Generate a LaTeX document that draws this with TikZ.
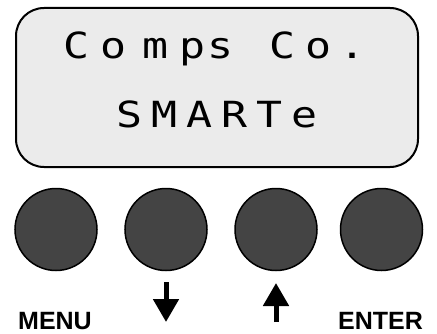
\documentclass[tikz,border=0pt]{standalone}
\usepackage{fontspec}
\usetikzlibrary{arrows.meta}
\newfontfamily\lcdfont{DejaVu Sans Mono}
\setsansfont{Liberation Sans}
\definecolor{lcdgray}{RGB}{235,235,235}
\definecolor{knobgray}{RGB}{68,68,68}
\tikzset{
  button/.style={circle,draw=black,line width=1.5pt,fill=knobgray,minimum size=82pt,inner sep=0pt},
  keylabel/.style={anchor=base,font=\sffamily\bfseries\fontsize{25}{25}\selectfont,inner sep=0pt},
  lcdchar/.style={anchor=base,inner sep=0pt,font=\lcdfont\fontsize{36}{36}\selectfont},
  keyarrow/.style={line width=5pt,-{Triangle[length=23pt,width=25pt]}}
}

\begin{document}
\begin{tikzpicture}[x=1pt,y=1pt]
  \useasboundingbox (0,0) rectangle (437,333);

  \draw[line width=2pt,fill=lcdgray,rounded corners=28pt] (16,166) rectangle (418,325);
  % display text, one character at a time
  \foreach \ch/\x [count=\i] in {C/77,o/114,m/156,p/193,s/221,C/283,o/319,./353}
    \node[lcdchar] (top\i) at (\x,275) {\scalebox{1.2}[1]{\ch}};
  \foreach \ch/\x [count=\i] in {S/130,M/165,A/200,R/235,T/270,e/305}
    \node[lcdchar] (bot\i) at (\x,206) {\scalebox{1.2}[1]{\ch}};

  \node[button] (menu) at (56,103.5) {};
  \node[button] (down) at (166,103.5) {};
  \node[button] (up) at (276,103.5) {};
  \node[button] (enter) at (381.5,103.5) {};

  \node[keylabel] (menutext) at (55,4) {MENU};
  \node[keylabel] (entertext) at (380.5,4) {ENTER};

  \coordinate (downtop) at (166,51);
  \coordinate (downtip) at (166,11);
  \coordinate (upbottom) at (276,11);
  \coordinate (uptip) at (276,50);
  \draw[keyarrow] (downtop) -- (downtip);
  \draw[keyarrow] (upbottom) -- (uptip);
\end{tikzpicture}
\end{document}
